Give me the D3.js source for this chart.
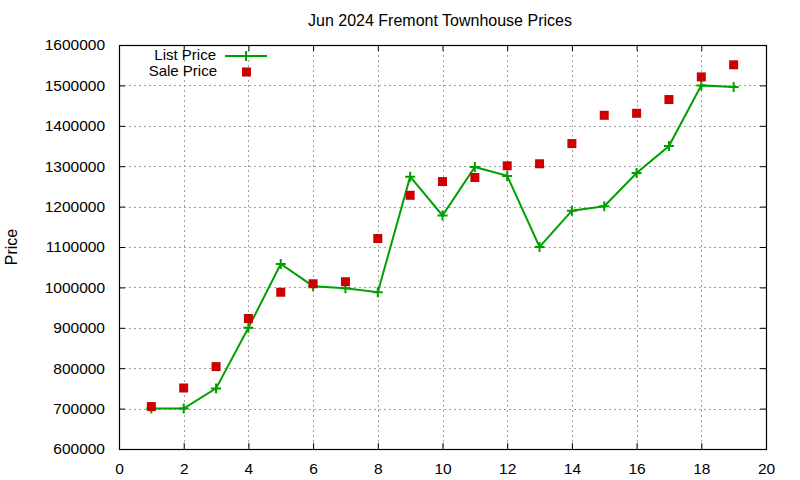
<!DOCTYPE html>
<html>
<head>
<meta charset="utf-8">
<script src="https://cdn.jsdelivr.net/npm/d3@7"></script>
<style>
  body { margin: 0; background: #fff; }
  svg text { font-family: "Liberation Sans", Arial, sans-serif; fill: #000; }
</style>
</head>
<body>
<div id="chart"></div>
<script>
const months = [1, 2, 3, 4, 5, 6, 7, 8, 9, 10, 11, 12, 13, 14, 15, 16, 17, 18, 19];
const listPrice = [700000, 700000, 750000, 900000, 1058000, 1003000, 998000, 988000, 1274000, 1178000,
  1298000, 1276000, 1100000, 1190000, 1201000, 1283000, 1350000, 1500000, 1496000];
const salePrice = [705000, 751000, 804000, 923000, 988000, 1009000, 1014000, 1121000, 1228000, 1262000,
  1272000, 1301000, 1306000, 1356000, 1426000, 1431000, 1465000, 1521000, 1551000];
const xTicks = [0, 2, 4, 6, 8, 10, 12, 14, 16, 18, 20];
const yTicks = [600000, 700000, 800000, 900000, 1000000, 1100000, 1200000, 1300000, 1400000, 1500000, 1600000];

const width = 800, height = 480;
const margin = { top: 45, right: 34, bottom: 31, left: 119 };
const green = "#00a000", red = "#cc0000";

const svg = d3.select("#chart").append("svg")
  .attr("width", width)
  .attr("height", height);

const x = d3.scaleLinear().domain([0, 20]).range([margin.left, width - margin.right]);
const y = d3.scaleLinear().domain([600000, 1600000]).range([height - margin.bottom, margin.top]);

// grid
const grid = svg.append("g")
  .attr("stroke", "#a0a0a0")
  .attr("stroke-width", 1)
  .attr("stroke-dasharray", "2,3");
grid.selectAll("line.v")
  .data(xTicks.slice(1, -1))
  .enter().append("line")
  .attr("x1", d => Math.round(x(d)) + 0.5).attr("x2", d => Math.round(x(d)) + 0.5)
  .attr("y1", y.range()[1]).attr("y2", y.range()[0]);
grid.selectAll("line.h")
  .data(yTicks.slice(1, -1))
  .enter().append("line")
  .attr("y1", d => Math.round(y(d)) + 0.5).attr("y2", d => Math.round(y(d)) + 0.5)
  .attr("x1", x.range()[0]).attr("x2", x.range()[1]);

// axes, ticks inward and mirrored
const fs = "15.5px";
const axBottom = svg.append("g")
  .attr("transform", `translate(0,${y.range()[0]})`)
  .call(d3.axisBottom(x).tickValues(xTicks).tickSizeInner(-6).tickSizeOuter(0).tickPadding(14));
const axTop = svg.append("g")
  .attr("transform", `translate(0,${y.range()[1]})`)
  .call(d3.axisTop(x).tickValues(xTicks).tickSizeInner(-6).tickSizeOuter(0).tickFormat(""));
const axLeft = svg.append("g")
  .attr("transform", `translate(${x.range()[0]},0)`)
  .call(d3.axisLeft(y).tickValues(yTicks).tickSizeInner(-6).tickSizeOuter(0).tickPadding(14).tickFormat(d3.format("d")));
const axRight = svg.append("g")
  .attr("transform", `translate(${x.range()[1]},0)`)
  .call(d3.axisRight(y).tickValues(yTicks).tickSizeInner(-6).tickSizeOuter(0).tickFormat(""));

[axBottom, axTop, axLeft, axRight].forEach(g => {
  g.select(".domain").remove();
  g.selectAll("line").attr("stroke", "#000");
  g.selectAll("text").style("font-size", fs).attr("fill", "#000");
});

svg.append("rect")
  .attr("x", x.range()[0] + 0.5).attr("y", y.range()[1] + 0.5)
  .attr("width", x.range()[1] - x.range()[0]).attr("height", y.range()[0] - y.range()[1])
  .attr("fill", "none").attr("stroke", "#000").attr("stroke-width", 1.2);

// title + label
svg.append("text")
  .attr("x", 440).attr("y", 26)
  .attr("text-anchor", "middle")
  .style("font-size", "16px")
  .text("Jun 2024 Fremont Townhouse Prices");
svg.append("text")
  .attr("transform", `translate(17,${(y.range()[0] + y.range()[1]) / 2}) rotate(-90)`)
  .attr("text-anchor", "middle")
  .style("font-size", "16px")
  .text("Price");

// list price line
const line = d3.line().x((d, i) => x(months[i])).y(d => y(d));
svg.append("path")
  .datum(listPrice)
  .attr("fill", "none")
  .attr("stroke", green)
  .attr("stroke-width", 2)
  .attr("d", line);

const plus = (g, cx, cy) => g.append("path")
  .attr("d", `M${cx - 5},${cy}H${cx + 5}M${cx},${cy - 5}V${cy + 5}`)
  .attr("stroke", green).attr("stroke-width", 2);

const pts = svg.append("g");
listPrice.forEach((d, i) => plus(pts, x(months[i]), y(d)));

// sale price squares
svg.append("g").selectAll("rect")
  .data(salePrice)
  .enter().append("rect")
  .attr("x", (d, i) => x(months[i]) - 4.5)
  .attr("y", d => y(d) - 4.5)
  .attr("width", 9).attr("height", 9)
  .attr("fill", red);

// legend
const lg = svg.append("g");
lg.append("text").attr("x", 216).attr("y", 60).attr("text-anchor", "end").style("font-size", "15px").text("List Price");
lg.append("line").attr("x1", 225).attr("x2", 267).attr("y1", 56).attr("y2", 56)
  .attr("stroke", green).attr("stroke-width", 2);
plus(lg, 246, 56);
lg.append("text").attr("x", 217).attr("y", 76).attr("text-anchor", "end").style("font-size", "15px").text("Sale Price");
lg.append("rect").attr("x", 242).attr("y", 67.5).attr("width", 9).attr("height", 9).attr("fill", red);
</script>
</body>
</html>
